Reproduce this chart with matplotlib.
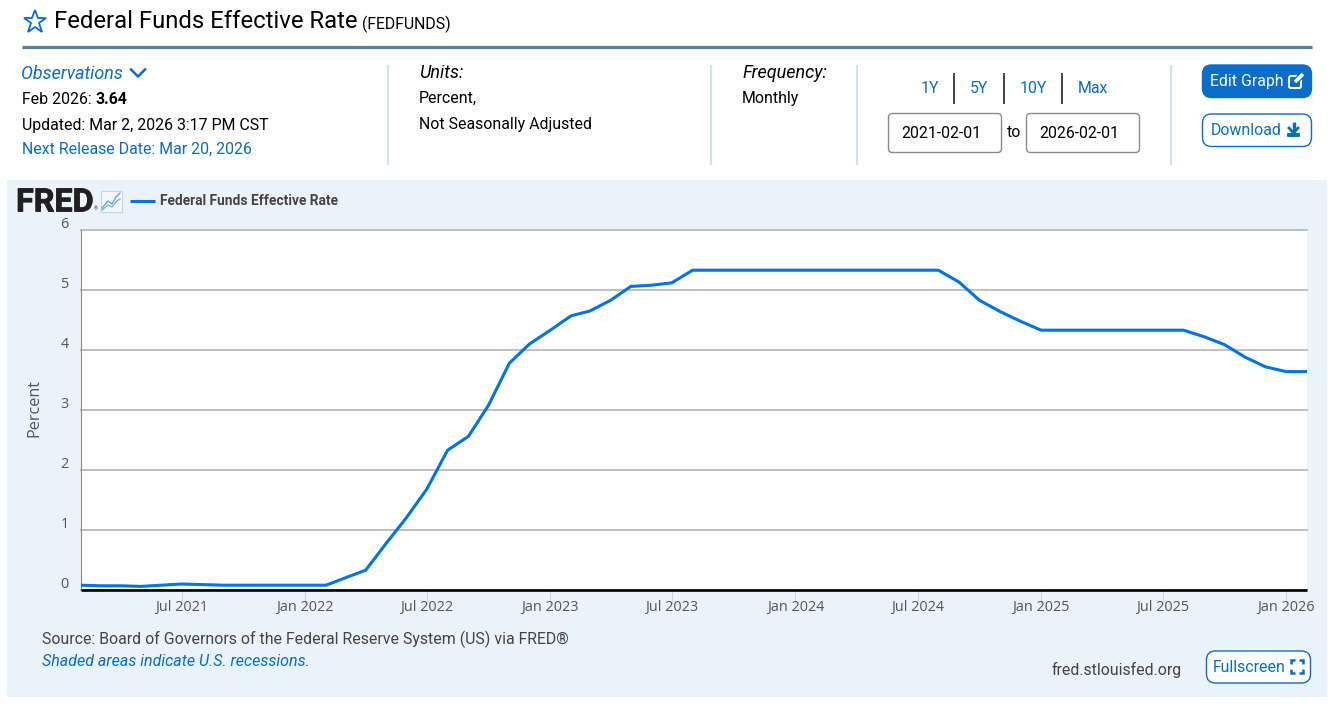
import matplotlib
matplotlib.use("Agg")
import matplotlib.pyplot as plt
import matplotlib.patheffects as pe
from matplotlib.patches import FancyBboxPatch, Rectangle
from matplotlib.transforms import ScaledTranslation
import pandas as pd

# ---- data ----
months = pd.date_range("2021-02-01", "2026-02-01", freq="MS")
rate = [0.08, 0.07, 0.07, 0.06, 0.08, 0.10, 0.09, 0.08, 0.08, 0.08, 0.08,
        0.08, 0.08, 0.20, 0.33, 0.77, 1.21, 1.68, 2.33, 2.56, 3.08, 3.78, 4.10,
        4.33, 4.57, 4.65, 4.83, 5.06, 5.08, 5.12, 5.33, 5.33, 5.33, 5.33, 5.33,
        5.33, 5.33, 5.33, 5.33, 5.33, 5.33, 5.33, 5.33, 5.13, 4.83, 4.64, 4.48,
        4.33, 4.33, 4.33, 4.33, 4.33, 4.33, 4.33, 4.33, 4.22, 4.09, 3.88, 3.72,
        3.64, 3.64]
y_ticks = [0, 1, 2, 3, 4, 5, 6]
x_tick_dates = pd.to_datetime(["2021-07-01", "2022-01-01", "2022-07-01", "2023-01-01",
                               "2023-07-01", "2024-01-01", "2024-07-01", "2025-01-01",
                               "2025-07-01", "2026-01-01"])
x_tick_labels = ["Jul 2021", "Jan 2022", "Jul 2022", "Jan 2023", "Jul 2023",
                 "Jan 2024", "Jul 2024", "Jan 2025", "Jul 2025", "Jan 2026"]
series_name = "Federal Funds Effective Rate"

# ---- palette ----
BLUE = "#0A6CCB"
LINE = "#0073E6"
DARK = "#000000"
GREY = "#444444"
PANEL = "#EAF2FA"
SEP = "#CFE3E8"

W, H = 1339, 712
plt.rcParams["font.family"] = ["Roboto", "DejaVu Sans"]
fig = plt.figure(figsize=(W / 100, H / 100), dpi=100, facecolor="white")

# page chrome, in pixel coordinates
pg = fig.add_axes([0, 0, 1, 1], zorder=0)
pg.set_xlim(0, W)
pg.set_ylim(H, 0)
pg.axis("off")


def T(x, y, s, size=11.45, color=DARK, ha="left", style="normal", weight="normal", **kw):
    return pg.text(x, y, s, fontsize=size, color=color, ha=ha, va="center",
                   style=style, weight=weight, **kw)


def button(x0, y0, x1, y1, face, edge, r=8, lw=1.0):
    pg.add_patch(FancyBboxPatch((x0 + r, y0 + r), x1 - x0 - 2 * r, y1 - y0 - 2 * r,
                                boxstyle=f"round,pad={r},rounding_size={r}",
                                facecolor=face, edgecolor=edge, linewidth=lw))


# panel behind the chart
pg.add_patch(Rectangle((7, 180), 1320, 517, facecolor=PANEL, edgecolor="none"))

# title row
pg.plot([34.5], [22], marker="*", ms=17, mfc="none", mec=BLUE, mew=1.3)
T(54.5, 22, series_name, size=17.2)
T(362, 24.5, "(FEDFUNDS)", size=11.4)
pg.plot([22, 1312], [47, 47], color="#5A7D9A", lw=2.3, solid_capstyle="butt")

# separators
for sx in [388, 711, 857, 1171]:
    pg.plot([sx, sx], [65, 165], color=SEP, lw=1.5, solid_capstyle="butt")

# observations column
T(21.5, 74, "Observations", color=BLUE, style="italic", size=12.9)
pg.plot([131, 138, 145], [69.5, 76.5, 69.5], color=BLUE, lw=1.8)
T(21.5, 100, "Feb 2026: ")
T(95.5, 100, "3.64", weight="bold")
T(21.5, 125.5, "Updated: Mar 2, 2026 3:17 PM CST")
T(21.5, 149.5, "Next Release Date: Mar 20, 2026", color=BLUE)

# units and frequency
T(419, 73, "Units:", style="italic", size=13)
T(419, 98.5, "Percent,")
T(419, 124.5, "Not Seasonally Adjusted")
T(742, 73, "Frequency:", style="italic", size=13)
T(742, 98.5, "Monthly")

# range links
for lx, s in [(929.5, "1Y"), (978.5, "5Y"), (1033, "10Y"), (1093, "Max")]:
    T(lx, 88.5, s, color=BLUE, ha="center")
for lx in [954, 1004, 1062]:
    pg.plot([lx, lx], [73, 104], color="#111111", lw=1.1, solid_capstyle="butt")

# date boxes
button(888.5, 113.5, 1001.5, 152.5, "white", "#8A8A8A", r=4)
button(1026.5, 113.5, 1139.5, 152.5, "white", "#8A8A8A", r=4)
T(941.5, 133.5, "2021-02-01", ha="center")
T(1079, 133.5, "2026-02-01", ha="center")
T(1014.5, 132.5, "to", ha="center")

# edit and download buttons
button(1202.5, 65, 1311.5, 97.5, BLUE, BLUE, r=9)
T(1210, 81.5, "Edit Graph", color="white")
pg.add_patch(FancyBboxPatch((1290, 77), 10, 10, boxstyle="round,pad=1,rounding_size=2",
                            facecolor="none", edgecolor="white", linewidth=1.5))
pg.plot([1295, 1303], [82, 74], color=BLUE, lw=4.5, solid_capstyle="butt")
pg.plot([1295, 1303], [82, 74], color="white", lw=2.6, solid_capstyle="butt")
button(1202.5, 114, 1311.5, 146.5, "white", BLUE, r=9)
T(1211, 130.5, "Download", color=BLUE)
pg.plot([1293.5, 1293.5], [122, 132], color=BLUE, lw=2.4, solid_capstyle="butt")
pg.plot([1289, 1293.5, 1298], [128, 133, 128], color=BLUE, lw=2.0)
pg.add_patch(FancyBboxPatch((1288, 134), 11, 2, boxstyle="round,pad=1,rounding_size=1",
                            facecolor=BLUE, edgecolor="none"))

# FRED logo, miniature chart icon, legend key
T(16, 202.5, "FRED", size=23.3, weight="bold", color="#231F20",
  path_effects=[pe.withStroke(linewidth=0.6, foreground="#231F20")])
T(94, 209, "\u00ae", size=3.5, color="#231F20")
pg.add_patch(Rectangle((100.5, 190.5), 21, 21, facecolor="#F4F8FB", edgecolor="#C9D3DA", lw=0.8))
pg.plot([102, 108, 112, 116, 120], [208, 201, 204, 197, 193], color="#5B9BD5", lw=0.9)
pg.plot([102, 108, 112, 116, 120], [210, 205, 207, 202, 199], color="#6FB7A8", lw=0.9)
pg.plot([130, 155], [200.5, 200.5], color=LINE, lw=2.2, solid_capstyle="butt")
T(159.5, 201, series_name, size=9.95, weight="bold", color=GREY)

# footer
T(41.5, 639.5, "Source: Board of Governors of the Federal Reserve System (US) via FRED\u00ae",
  size=11.45, color=GREY)
T(41.5, 662, "Shaded areas indicate U.S. recessions.", size=11.5, color=BLUE, style="italic")
T(1052, 670, "fred.stlouisfed.org", color=GREY)
button(1206.5, 651, 1310.5, 683, "white", BLUE, r=9)
T(1213, 667, "Fullscreen", color=BLUE)
for cx, cy, dx, dy in [(1291, 660, 1, 1), (1303, 660, -1, 1), (1291, 673, 1, -1), (1303, 673, -1, -1)]:
    pg.plot([cx + 4 * dx, cx, cx], [cy, cy, cy + 4 * dy], color=BLUE, lw=1.8,
            solid_capstyle="butt", solid_joinstyle="miter")

# the chart itself
ax = fig.add_axes([81 / W, (H - 590) / H, 1226 / W, 360 / H], zorder=1)
ax.set_facecolor("white")
ax.plot(months, rate, color=LINE, lw=2.2, solid_joinstyle="miter", zorder=3)
ax.set_xlim(months[0], months[-1])
ax.set_ylim(0, 6)
ax.set_yticks(y_ticks)
ax.set_yticklabels([str(v) for v in y_ticks], fontsize=10.4, color="#555555",
                   family=["Open Sans", "DejaVu Sans"])
ax.tick_params(axis="y", length=0, pad=9)
shift = ScaledTranslation(0, -2 / 100, fig.dpi_scale_trans)
for lab in ax.get_yticklabels():
    lab.set_verticalalignment("bottom")
    lab.set_transform(lab.get_transform() + shift)
ax.grid(axis="y", color="#C0C0C0", lw=1.4, zorder=1, clip_on=False)
ax.set_axisbelow(True)
ax.set_xticks(x_tick_dates)
ax.set_xticklabels(x_tick_labels, fontsize=10.4, color="#555555",
                   family=["Open Sans", "DejaVu Sans"])
ax.tick_params(axis="x", length=10, width=0.8, color="#CCD6EB", pad=-3)
for name in ["top", "right"]:
    ax.spines[name].set_visible(False)
ax.spines["left"].set_color("#8C8C8C")
ax.spines["left"].set_linewidth(0.8)
ax.spines["bottom"].set_color("black")
ax.spines["bottom"].set_linewidth(1.9)
ax.spines["bottom"].set_capstyle("butt")
ax.set_ylabel("Percent", fontsize=11.6, color="#555555", family=["Open Sans", "DejaVu Sans"])
ax.yaxis.set_label_coords((42 - 81) / 1226, 0.506)

fig.savefig("out.png", dpi=100, facecolor="white")
